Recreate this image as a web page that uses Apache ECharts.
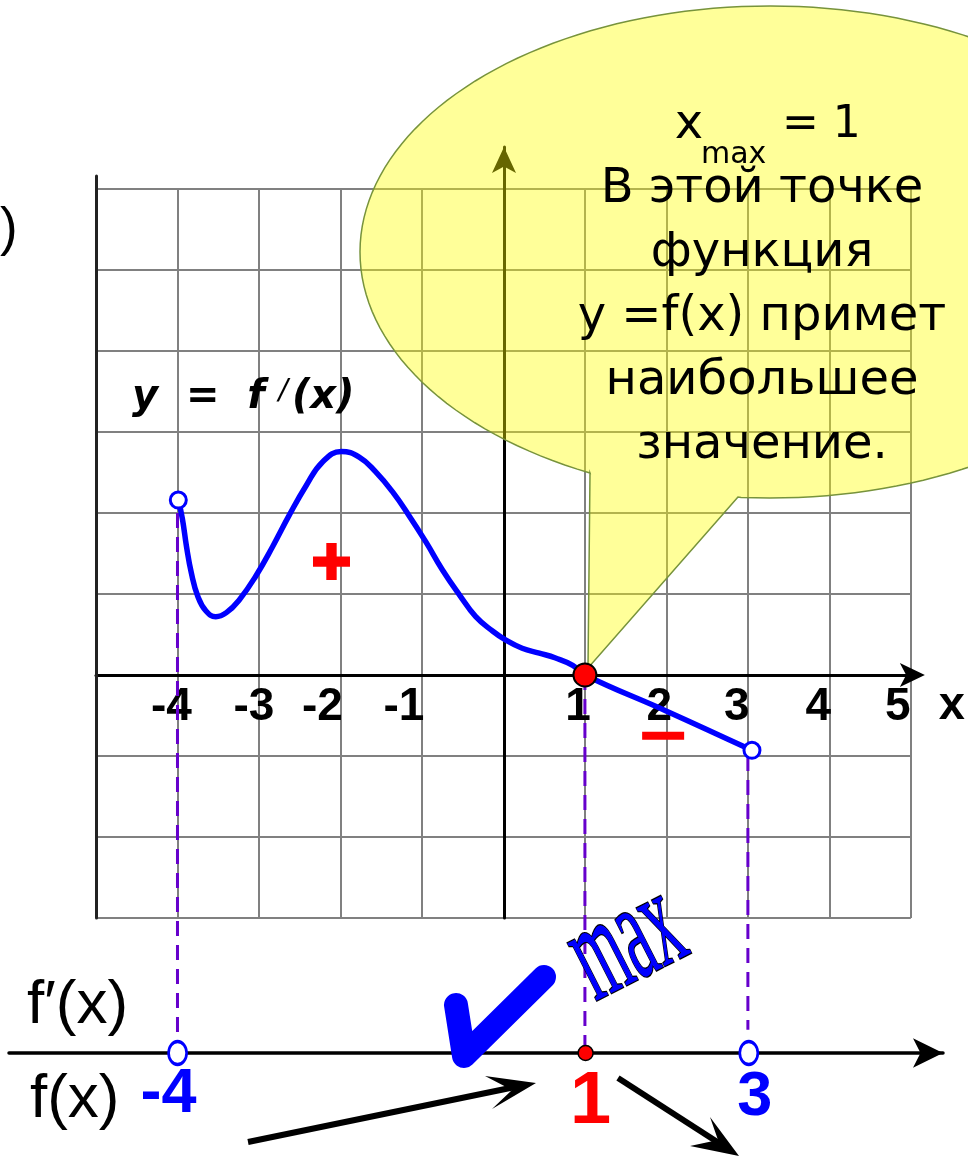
<!DOCTYPE html>
<html>
<head>
<meta charset="utf-8">
<title>y = f'(x)</title>
<script src="https://cdn.jsdelivr.net/npm/echarts@6/dist/echarts.min.js"></script>
<style>html,body{margin:0;padding:0;background:#fff}</style>
</head>
<body>
<div id="chart" style="width:968px;height:1156px"></div>
<script>
// график производной y = f'(x)
var curveX = [-3.99, -3.94, -3.89, -3.83, -3.75, -3.65, -3.53, -3.4, -3.24, -3.04, -2.83, -2.63, -2.42, -2.22, -1.99, -1.77, -1.57, -1.36, -1.16, -0.95, -0.75, -0.54, -0.34, -0.13, 0.03, 0.23, 0.44, 0.64, 0.85, 1, 2.01, 3.05];
var curveY = [2.16, 1.93, 1.59, 1.26, 0.97, 0.79, 0.72, 0.77, 0.93, 1.22, 1.59, 1.97, 2.34, 2.63, 2.76, 2.69, 2.51, 2.26, 1.97, 1.64, 1.3, 0.99, 0.72, 0.54, 0.43, 0.33, 0.27, 0.21, 0.12, 0, -0.45, -0.93];
// выколотые концы
var openX = [-3.99, 3.05];
var openY = [2.16, -0.93];
// точка максимума
var maxX = 1, maxY = 0;
// знаки производной
var signX = [-2.11, 1.96];
var signY = [1.4, -0.75];
// подписи оси x
var xTickValues = [-4, -3, -2, -1, 1, 2, 3, 4, 5];
var xTickLabels = ['-4', '-3', '-2', '-1', '1', '2', '3', '4', '5'];
// пунктиры вниз к числовой прямой
var dashX = [-4, 1, 3];
var dashTop = [2.0, 0, -1.0];
// числовая прямая
var nlX = [-4, 1, 3];
var nlText = ['-4', '1', '3'];
var balloonLines = ['В этой точке', 'функция', 'y =f(x) примет', 'наибольшее', 'значение.'];

var blue = '#0000ff', red = '#ff0000', purple = '#6600cc', gray = '#808080';
var L = 96, R = 56, T = 189, B = 238;
var unitX = (968 - L - R) / 10, unitY = (1156 - T - B) / 9;

var labelShift = [6, 5, 18, 18, 7, 7, 11, 11, 13];
var rich = {};
xTickLabels.forEach(function (t, i) {
  rich['t' + i] = {fontSize: 46, fontWeight: 'bold', fontFamily: 'Liberation Sans', color: '#000', padding: [0, 2 * labelShift[i], 0, 0]};
});

function zip(a, b) { return a.map(function (v, i) { return [v, b[i]]; }); }
function hidden(extra) {
  var o = {axisLine: {show: false}, axisTick: {show: false}, axisLabel: {show: false}, splitLine: {show: false}};
  for (var k in extra) o[k] = extra[k];
  return o;
}

// контур выноски: эллипс + хвост к точке максимума
var balloon = [[738, 497], [588, 668], [590, 473]];
for (var a = 116.04 - 360; a <= 94.48; a += 2) {
  var r = a * Math.PI / 180;
  balloon.push([770 + 410 * Math.cos(r), 252 + 246 * Math.sin(r)]);
}
balloon.push([738, 497]);

var chart = echarts.init(document.getElementById('chart'));

var series = [];
dashX.forEach(function (x, i) {
  var bottom = [-4.48, -4.58, -4.38][i];
  series.push({
    type: 'line', xAxisIndex: 0, yAxisIndex: 0, clip: false, symbol: 'none', z: 1.8,
    data: [[x, dashTop[i]], [x, bottom]],
    lineStyle: {color: purple, width: 3, type: [15, 9]}
  });
});
series.push({
  type: 'line', xAxisIndex: 0, yAxisIndex: 0, smooth: 0.45, symbol: 'none', z: 2,
  data: zip(curveX, curveY), lineStyle: {color: blue, width: 5.5, join: 'round'}
});
series.push({
  type: 'scatter', xAxisIndex: 0, yAxisIndex: 0, z: 3, symbolSize: 16,
  data: zip(openX, openY),
  itemStyle: {color: '#fff', borderColor: blue, borderWidth: 3, opacity: 1}
});
series.push({
  type: 'scatter', xAxisIndex: 0, yAxisIndex: 0, z: 4, symbolSize: 23,
  data: [[maxX, maxY]],
  itemStyle: {color: red, borderColor: '#000', borderWidth: 2, opacity: 1}
});
series.push({
  type: 'scatter', xAxisIndex: 0, yAxisIndex: 0, z: 3,
  data: [
    {value: [signX[0], signY[0]], symbol: 'path://M36,0h28v36h36v28h-36v36h-28v-36h-36v-28h36z', symbolSize: [37, 37]},
    {value: [signX[1], signY[1]], symbol: 'rect', symbolSize: [42, 8]}
  ],
  itemStyle: {color: red, opacity: 1}
});
var nlStyle = [
  {size: [18, 23], item: {color: '#fff', borderColor: blue, borderWidth: 3, opacity: 1}, color: blue, font: 63, off: [-9, 42]},
  {size: 15, item: {color: red, borderColor: '#000', borderWidth: 1.5, opacity: 1}, color: red, font: 74, off: [5, 50]},
  {size: [18, 23], item: {color: '#fff', borderColor: blue, borderWidth: 3, opacity: 1}, color: blue, font: 63, off: [6, 45]}
];
series.push({
  type: 'scatter', xAxisIndex: 3, yAxisIndex: 3, z: 4,
  data: nlX.map(function (x, i) {
    var s = nlStyle[i];
    return {
      value: [x, 0], symbolSize: s.size, itemStyle: s.item,
      label: {show: true, formatter: nlText[i], position: 'inside', offset: s.off, opacity: 1,
        color: s.color, fontSize: s.font, fontWeight: 'bold', fontFamily: 'Liberation Sans'}
    };
  })
});

var arrowHead = function (pts) {
  return {type: 'polygon', z: 10, shape: {points: pts}, style: {fill: '#000'}};
};

chart.setOption({
  animation: false,
  backgroundColor: '#fff',
  grid: [
    {left: L, right: R, top: T, bottom: B},
    {left: L, right: R, top: 147, bottom: B},
    {left: L, right: R, top: 176, bottom: B},
    {left: 9, right: 25, top: 1003, bottom: 1156 - 1103}
  ],
  xAxis: [
    {
      gridIndex: 0, type: 'value', min: -5, max: 5, interval: 1, z: 0.5,
      offset: -3 * unitY,
      axisLine: {onZero: false, lineStyle: {color: '#000', width: 3}, symbol: ['none', 'arrow'], symbolSize: [18, 25], symbolOffset: [0, 14]},
      axisTick: {show: false},
      splitLine: {lineStyle: {color: gray, width: 2}},
      axisLabel: {
        margin: 9, showMinLabel: true, showMaxLabel: true, rich: rich,
        formatter: function (v) {
          var i = xTickValues.indexOf(v);
          return i < 0 ? '' : '{t' + i + '|' + xTickLabels[i] + '}';
        }
      },
      name: 'x', nameLocation: 'end', nameGap: 28,
      nameTextStyle: {fontSize: 47, fontWeight: 'bold', fontFamily: 'Liberation Sans', color: '#000', verticalAlign: 'top', padding: [8, 0, 0, 0]}
    },
    hidden({gridIndex: 1, type: 'value', min: -5, max: 5}),
    hidden({gridIndex: 2, type: 'value', min: -5, max: 5}),
    hidden({gridIndex: 3, type: 'value', min: -5 - (L - 9) / unitX, max: 5 + (943 - 912) / unitX, z: 0.5,
      axisLine: {show: true, onZero: true, lineStyle: {color: '#000', width: 3.5}, symbol: ['none', 'arrow'], symbolSize: [22, 30]}})
  ],
  yAxis: [
    {
      gridIndex: 0, type: 'value', min: -3, max: 6, interval: 1,
      axisLine: {show: false}, axisTick: {show: false}, axisLabel: {show: false},
      splitLine: {lineStyle: {color: gray, width: 2}}
    },
    hidden({gridIndex: 1, type: 'value', min: -3, max: 6 + (T - 147) / unitY, z: 0.6,
      axisLine: {show: true, onZero: true, lineStyle: {color: '#000', width: 3}, symbol: ['none', 'arrow'], symbolSize: [18, 26]}}),
    hidden({gridIndex: 2, type: 'value', min: -3, max: 6 + (T - 176) / unitY, z: 0.6,
      axisLine: {show: true, onZero: false, lineStyle: {color: '#222', width: 3}}}),
    hidden({gridIndex: 3, type: 'value', min: -1, max: 1})
  ],
  graphic: [
    // выноска
    {type: 'polygon', z: 1, shape: {points: balloon},
      style: {fill: 'rgba(255,255,0,0.4)', stroke: '#77933c', lineWidth: 1.5}},
    {type: 'text', z: 10, x: 689, y: 126, style: {text: 'x', font: '48px "DejaVu Sans"', fill: '#000', align: 'center', verticalAlign: 'middle'}},
    {type: 'text', z: 10, x: 701, y: 155, style: {text: 'max', font: '30px "DejaVu Sans"', fill: '#000', align: 'left', verticalAlign: 'middle'}},
    {type: 'text', z: 10, x: 782, y: 126, style: {text: '= 1', font: '44px "DejaVu Sans"', fill: '#000', align: 'left', verticalAlign: 'middle'}},
    {type: 'text', z: 10, x: 762, y: 158, style: {text: balloonLines.join('\n'), font: '48px "DejaVu Sans"', lineHeight: 64, fill: '#000', align: 'center', verticalAlign: 'top'}},
    // подписи
    {type: 'text', z: 10, x: 132, y: 398, style: {
      text: '{a|y  =  f }{p|/}{a|(x)}', align: 'left', verticalAlign: 'middle',
      rich: {a: {font: 'italic bold 40px "DejaVu Sans"', fill: '#000'}, p: {font: 'italic 28px "DejaVu Sans"', fill: '#000', verticalAlign: 'top', padding: [0, 4, 0, 0]}}}},
    {type: 'text', z: 10, x: 0, y: 230, style: {text: ')', font: '53px "Liberation Sans"', fill: '#000', align: 'left', verticalAlign: 'middle'}},
    {type: 'text', z: 10, x: 27, y: 1006, style: {text: 'f\u2032(x)', font: '62px "Liberation Sans"', fill: '#000', align: 'left', verticalAlign: 'middle'}},
    {type: 'text', z: 10, x: 30, y: 1100, style: {text: 'f(x)', font: '62px "Liberation Sans"', fill: '#000', align: 'left', verticalAlign: 'middle'}},
    // галочка и max
    {type: 'polyline', z: 10, shape: {points: [[456, 1005], [464, 1056], [544, 977]]},
      style: {stroke: blue, lineWidth: 24, lineCap: 'round', lineJoin: 'round', fill: null}},
    {type: 'text', z: 10, x: 627, y: 944, rotation: 0.47, scaleX: 0.45,
      style: {text: 'max', font: '140px "Liberation Serif"', fill: blue, stroke: '#000', lineWidth: 2.5, align: 'center', verticalAlign: 'middle'}},
    // стрелки
    {type: 'line', z: 10, shape: {x1: 248, y1: 1142, x2: 515, y2: 1087}, style: {stroke: '#000', lineWidth: 6}},
    arrowHead([[536, 1083], [485, 1076], [512, 1090], [492, 1109]]),
    {type: 'line', z: 10, shape: {x1: 618, y1: 1078, x2: 722, y2: 1145}, style: {stroke: '#000', lineWidth: 6}},
    arrowHead([[739, 1156], [690, 1146], [718, 1140], [710, 1117]])
  ],
  series: series
});
</script>
</body>
</html>
